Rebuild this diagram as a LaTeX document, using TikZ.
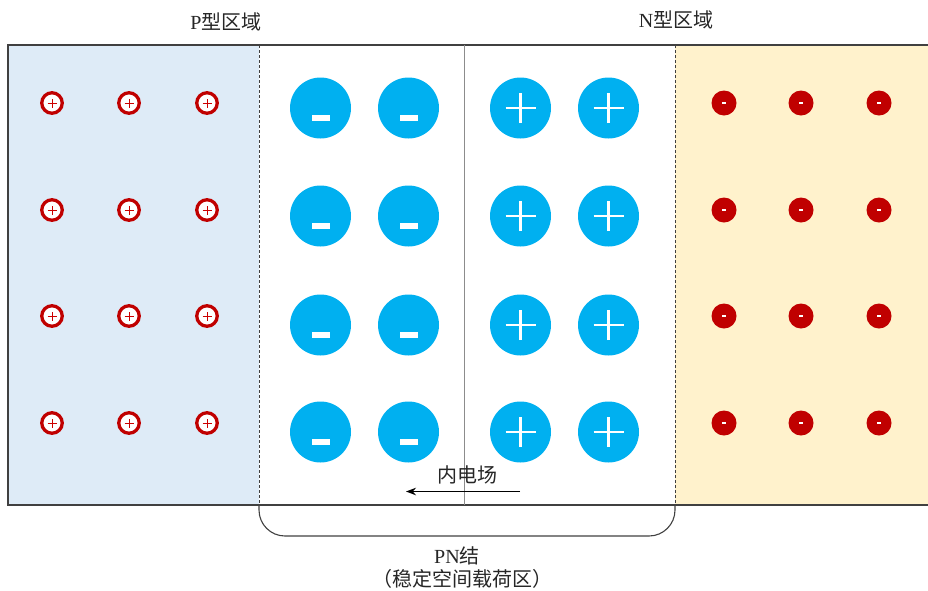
\documentclass[tikz,border=0pt]{standalone}
\usepackage{fontspec}
\setmainfont{Liberation Serif}
\newfontfamily\cjk{Noto Sans CJK SC}
\usetikzlibrary{arrows.meta}
\definecolor{pblue}{HTML}{DEEBF7}
\definecolor{nyellow}{HTML}{FFF2CC}
\definecolor{ionblue}{HTML}{00B0F0}
\definecolor{dred}{HTML}{C00000}
\definecolor{frame}{HTML}{404040}
\tikzset{
  hole/.style={circle,draw=dred,line width=3.3pt,fill=white,minimum size=20.5pt,inner sep=0pt,
    path picture={\draw[red!80!black,line width=0.7pt] ([xshift=-4.5pt]path picture bounding box.center)--([xshift=4.5pt]path picture bounding box.center);
                  \draw[red!80!black,line width=0.7pt] ([yshift=-4.5pt]path picture bounding box.center)--([yshift=4.5pt]path picture bounding box.center);}},
  elec/.style={circle,fill=dred,minimum size=25pt,inner sep=0pt,
    path picture={\fill[white] ([xshift=-2.2pt,yshift=-0.9pt]path picture bounding box.center) rectangle ([xshift=2.2pt,yshift=0.9pt]path picture bounding box.center);}},
  negion/.style={circle,fill=ionblue,minimum size=61pt,inner sep=0pt,
    path picture={\fill[white] ([xshift=-9pt,yshift=-13pt]path picture bounding box.center) rectangle ([xshift=9pt,yshift=-7pt]path picture bounding box.center);}},
  posion/.style={circle,fill=ionblue,minimum size=61pt,inner sep=0pt,
    path picture={\draw[white,line width=2.2pt] ([xshift=-15pt]path picture bounding box.center)--([xshift=15pt]path picture bounding box.center);
                  \draw[white,line width=2.2pt] ([yshift=-15pt]path picture bounding box.center)--([yshift=15pt]path picture bounding box.center);}},
  lab/.style={font=\fontsize{20pt}{23pt}\selectfont,text=black!85,inner sep=0pt},
}
\begin{document}
\begin{tikzpicture}[x=1pt,y=-1pt]
\useasboundingbox (0,0) rectangle (928,590);
% regions
\fill[pblue] (8,45) rectangle (259,505);
\fill[nyellow] (675,45) rectangle (930,505);
\draw[frame,line width=1.5pt] (930,45) -- (8,45) -- (8,505) -- (930,505);
\draw[frame,line width=0.7pt,dash pattern=on 3pt off 2pt] (259,45) -- (259,505);
\draw[frame,line width=0.7pt,dash pattern=on 3pt off 2pt] (675,45) -- (675,505);
\draw[black!45,line width=1pt] (464,45) -- (464,505);
% holes / electrons
\foreach \y [count=\r] in {103,210,316,423}{
  \foreach \x [count=\c] in {52,129,207}{
    \node[hole] (h\r\c) at (\x,\y) {};
  }
  \foreach \x [count=\c] in {724,801,879}{
    \node[elec] (e\r\c) at (\x,\y) {};
  }
}
% ions
\foreach \y [count=\r] in {108,216,325,432}{
  \node[negion] (n\r1) at (320.5,\y) {};
  \node[negion] (n\r2) at (408.5,\y) {};
  \node[posion] (p\r1) at (520.5,\y) {};
  \node[posion] (p\r2) at (608.5,\y) {};
}
% field arrow
\coordinate (fa) at (520,491.5);
\coordinate (fb) at (406,491.5);
\draw[black,line width=1.7pt,-{Stealth[length=10pt,width=7.5pt]}] (fa) -- (fb);
\node[lab] (field) at (467,475) {\cjk 内电场};
% bracket
\coordinate (bl) at (259,505);
\coordinate (br) at (675,505);
\draw[frame,line width=1.1pt,rounded corners=26pt] (bl) -- (259,536) -- (675,536) -- (br);
% labels
\node[lab] (plab) at (226,22) {P\cjk 型区域};
\node[lab] (nlab) at (676,20) {N\cjk 型区域};
\node[lab] (pn) at (457,556) {PN\cjk 结};
\node[lab] (pn2) at (462,579) {\cjk （稳定空间载荷区）};
\end{tikzpicture}
\end{document}
